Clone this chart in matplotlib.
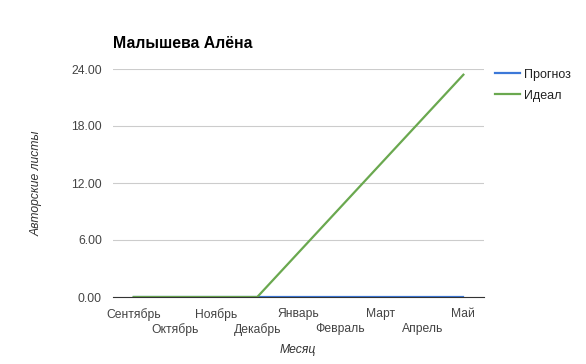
import matplotlib.pyplot as plt

plt.rcParams['font.family'] = ['Liberation Sans', 'DejaVu Sans']

months = ['Сентябрь', 'Октябрь', 'Ноябрь', 'Декабрь', 'Январь',
          'Февраль', 'Март', 'Апрель', 'Май']
prognoz = [0, 0, 0, 0, 0, 0, 0, 0, 0]
ideal = [0, 0, 0, 0, 4.68, 9.36, 14.04, 18.72, 23.4]
y_ticks = [0, 6, 12, 18, 24]

fig = plt.figure(figsize=(5.86, 3.64), dpi=100)
ax = fig.add_axes([113 / 586, 67 / 364, 371 / 586, 228 / 364])

x = list(range(len(months)))
ax.plot(x, prognoz, color='#3c78d8', lw=1.6, label='Прогноз', zorder=3)
ax.plot(x, ideal, color='#6aa84f', lw=1.6, label='Идеал', zorder=4)

ax.set_xlim(-0.5, len(months) - 0.5)
ax.set_ylim(0, 24)
ax.set_yticks(y_ticks)
ax.set_yticklabels([f'{v:.2f}' for v in y_ticks])
ax.grid(axis='y', color='#cccccc', lw=0.8)
ax.set_axisbelow(True)

# alternating month labels: even ones on the first row, odd ones below
ax.set_xticks(x[0::2])
ax.set_xticklabels(months[0::2])
ax.set_xticks(x[1::2], minor=True)
ax.set_xticklabels(months[1::2], minor=True)

for s in ['top', 'right', 'left']:
    ax.spines[s].set_visible(False)
ax.spines['bottom'].set_color('#333333')
ax.spines['bottom'].set_zorder(5)
ax.tick_params(which='both', length=0, labelsize=8.7, colors='#444444')
ax.tick_params(axis='y', pad=8)
ax.tick_params(axis='x', which='major', pad=8)
ax.tick_params(axis='x', which='minor', pad=19)

fig.text(113 / 586, 1 - 43 / 364, 'Малышева Алёна', fontsize=11.4,
         fontweight='bold', va='center', ha='left')
fig.text(37 / 586, 1 - 183 / 364, 'Авторские листы', rotation=90,
         style='italic', fontsize=8.7, color='#333333', va='center', ha='center')
fig.text(298 / 586, 1 - 350 / 364, 'Месяц', style='italic', fontsize=8.7,
         color='#333333', va='center', ha='center')

ax.legend(loc='upper left', bbox_to_anchor=(1.0, 1.05), frameon=False,
          fontsize=9, handlelength=2.0, handletextpad=0.3, labelspacing=0.7,
          labelcolor='#222222')

fig.savefig('out.png', dpi=100)
